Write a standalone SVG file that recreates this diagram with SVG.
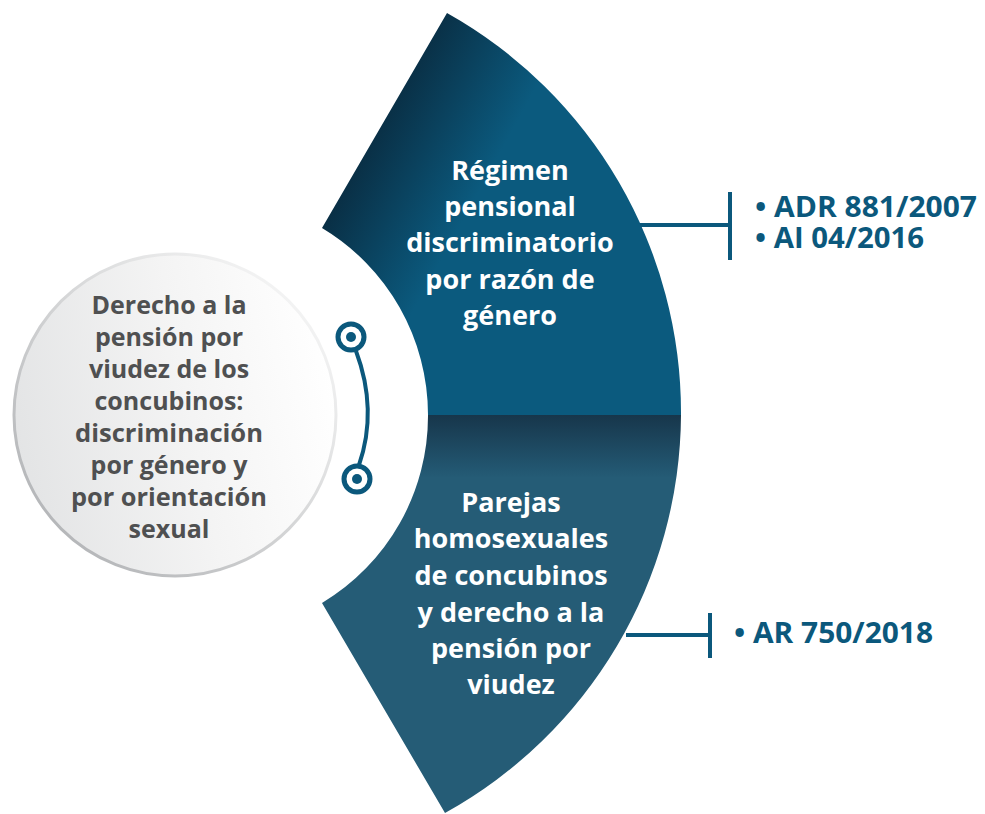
<svg xmlns="http://www.w3.org/2000/svg" width="985" height="814" viewBox="0 0 985 814">
  <defs>
    <linearGradient id="gTop" gradientUnits="userSpaceOnUse" x1="340" y1="160" x2="540" y2="270">
      <stop offset="0" stop-color="#09293d"/>
      <stop offset="0.6" stop-color="#0b5a7e"/>
      <stop offset="1" stop-color="#0b5a7e"/>
    </linearGradient>
    <linearGradient id="gBot" gradientUnits="userSpaceOnUse" x1="0" y1="415" x2="0" y2="478">
      <stop offset="0" stop-color="#17364b"/>
      <stop offset="0.85" stop-color="#225670"/>
      <stop offset="1" stop-color="#255c76"/>
    </linearGradient>
    <linearGradient id="gCircle" x1="0" y1="0.6" x2="1" y2="0.4">
      <stop offset="0" stop-color="#e3e4e5"/>
      <stop offset="0.55" stop-color="#f4f4f4"/>
      <stop offset="1" stop-color="#ffffff"/>
    </linearGradient>
    <linearGradient id="gRim" x1="0" y1="1" x2="1" y2="0">
      <stop offset="0" stop-color="#a9abae"/>
      <stop offset="0.5" stop-color="#d4d5d6"/>
      <stop offset="1" stop-color="#ffffff"/>
    </linearGradient>
    <style>
      .sec { font-family: "Open Sans", "Noto Sans", sans-serif; font-weight: 700; font-size: 27px; fill: #ffffff; text-anchor: middle; }
      .ctr { font-family: "Open Sans", "Noto Sans", sans-serif; font-weight: 700; font-size: 25px; fill: #4f5051; text-anchor: middle; }
      .ref { font-family: "Open Sans", "Noto Sans", sans-serif; font-weight: 700; font-size: 29px; fill: #0b587c; }
      .ln { stroke: #0b587c; stroke-width: 4; fill: none; }
      .ring { fill: #ffffff; stroke: #0b587c; stroke-width: 5; }
      .dot { fill: #0b587c; }
    </style>
  </defs>

  <g id="node-center">
    <circle cx="175" cy="415" r="161" fill="url(#gCircle)" stroke="url(#gRim)" stroke-width="3"/>
    <text class="ctr" x="169" y="314">Derecho a la</text>
    <text class="ctr" x="169" y="346">pensión por</text>
    <text class="ctr" x="169" y="378">viudez de los</text>
    <text class="ctr" x="169" y="410">concubinos:</text>
    <text class="ctr" x="169" y="442" textLength="188" lengthAdjust="spacingAndGlyphs">discriminación</text>
    <text class="ctr" x="169" y="474">por género y</text>
    <text class="ctr" x="169" y="506" textLength="196" lengthAdjust="spacingAndGlyphs">por orientación</text>
    <text class="ctr" x="169" y="538">sexual</text>
  </g>

  <g id="node-top">
    <path d="M447,13 A458,458 0 0,1 681,415 L428,415 A218,218 0 0,0 322,228 Z" fill="url(#gTop)"/>
    <text class="sec" x="510" y="180">Régimen</text>
    <text class="sec" x="510" y="216">pensional</text>
    <text class="sec" x="510" y="252">discriminatorio</text>
    <text class="sec" x="510" y="289">por razón de</text>
    <text class="sec" x="510" y="325">género</text>
  </g>

  <g id="node-bottom">
    <path d="M428,415 L681,415 A458,458 0 0,1 445,813 L322,603 A218,218 0 0,0 428,415 Z" fill="url(#gBot)"/>
    <text class="sec" x="511" y="512">Parejas</text>
    <text class="sec" x="511" y="548">homosexuales</text>
    <text class="sec" x="511" y="585">de concubinos</text>
    <text class="sec" x="511" y="622">y derecho a la</text>
    <text class="sec" x="511" y="658">pensión por</text>
    <text class="sec" x="511" y="694">viudez</text>
  </g>

  <g id="node-ref1">
    <text class="ref" x="755" y="217" textLength="222" lengthAdjust="spacingAndGlyphs">• ADR 881/2007</text>
    <text class="ref" x="755" y="248" textLength="169" lengthAdjust="spacingAndGlyphs">• AI 04/2016</text>
  </g>

  <g id="node-ref2">
    <text class="ref" x="734" y="643" textLength="199" lengthAdjust="spacingAndGlyphs">• AR 750/2018</text>
  </g>

  <g id="connectors">
    <path class="ln" d="M356,351 Q378,410 359,465"/>
    <circle class="ring" cx="351" cy="337" r="13"/>
    <circle class="dot" cx="351" cy="337" r="5"/>
    <circle class="ring" cx="357" cy="479" r="13"/>
    <circle class="dot" cx="357" cy="479" r="5"/>
    <path class="ln" d="M640,225 H730 M730,192 V260"/>
    <path class="ln" d="M626,635 H710 M710,613 V658"/>
  </g>
</svg>
